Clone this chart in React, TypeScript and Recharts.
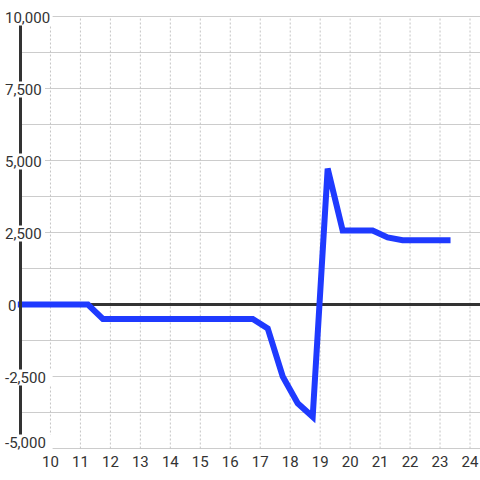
import React from 'react';
import { LineChart, Line, XAxis, YAxis, CartesianGrid, ReferenceLine } from 'recharts';

// hours of the day and the value at each point
const hours = [9, 11.25, 11.75, 16.75, 17.25, 17.75, 18.25, 18.75, 19.25, 19.75, 20.75, 21.25, 21.75, 23.25];
const values = [0, 0, -500, -500, -830, -2500, -3430, -3900, 4720, 2570, 2570, 2330, 2230, 2230];

const xTicks = [10, 11, 12, 13, 14, 15, 16, 17, 18, 19, 20, 21, 22, 23, 24];
const yTicks = [-5000, -3750, -2500, -1250, 0, 1250, 2500, 3750, 5000, 6250, 7500, 8750, 10000];

const data = hours.map((h, i) => ({ h, v: values[i] }));

const FONT = 'Roboto, "Liberation Sans", Arial, sans-serif';

const YTick = (props: any) => {
  const { y, payload } = props;
  const v = payload.value as number;
  if (v % 2500 !== 0) return <g />;
  const label = v.toLocaleString('en-US');
  const x = v === 0 ? 8 : 5;
  const w = label.length * 7.6 + 2;
  // lowest label is pushed up so it stays above the grid
  const base = v === -5000 ? y - 1 : y + 6;
  return (
    <g>
      <rect x={0} y={base - 13} width={x + w} height={16} fill="#fff" />
      <text x={x} y={base} fontSize={15} fill="#333" fontFamily={FONT} textAnchor="start">
        {label}
      </text>
    </g>
  );
};

const App: React.FC = () => {
  return (
    <div style={{ position: 'absolute', left: 0, top: 0, width: 480, height: 480, background: '#fff' }}>
      {/* half-pixel margins keep the 1px grid lines crisp */}
      <LineChart width={480} height={480} data={data} margin={{ top: 16.5, right: 0, bottom: 0, left: 18.5 }}>
        <CartesianGrid horizontal={true} vertical={false} stroke="#cccccc" />
        {xTicks.map((t) => (
          <ReferenceLine key={t} x={t} stroke="#c4c4c4" strokeDasharray="2 2" />
        ))}
        <XAxis
          dataKey="h"
          type="number"
          domain={[9, 24.3333]}
          ticks={xTicks}
          axisLine={false}
          tickLine={false}
          tick={{ fontSize: 15, fill: '#333', fontFamily: FONT }}
          height={31.5}
          interval={0}
        />
        <YAxis
          type="number"
          domain={[-5000, 10000]}
          ticks={yTicks}
          width={2}
          interval={0}
          tickLine={false}
          tickSize={0}
          axisLine={{ stroke: '#333', strokeWidth: 3 }}
          tick={<YTick />}
        />
        <ReferenceLine y={0} stroke="#333" strokeWidth={3} />
        <Line
          type="linear"
          dataKey="v"
          stroke="#1f3aff"
          strokeWidth={6}
          strokeLinecap="square"
          dot={false}
          activeDot={false}
          isAnimationActive={false}
        />
      </LineChart>
    </div>
  );
};

export default App;
